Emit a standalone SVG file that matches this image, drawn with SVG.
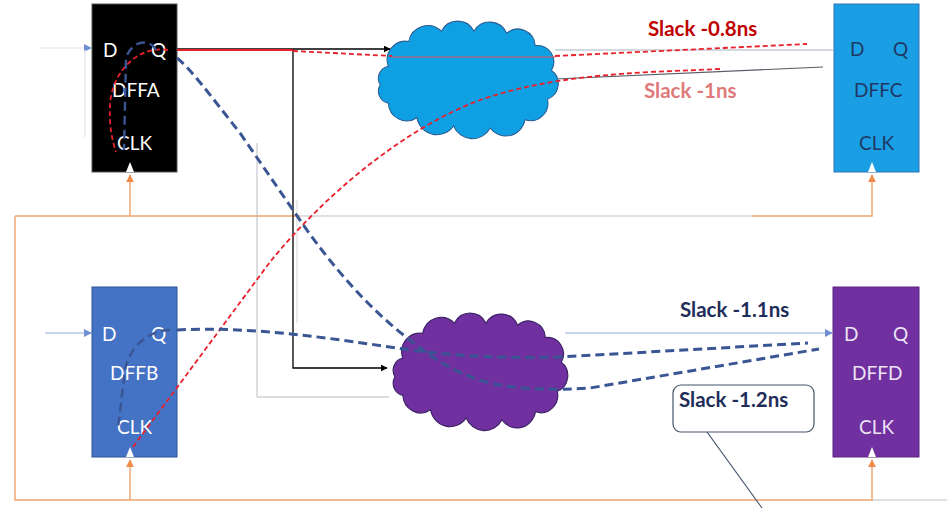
<svg xmlns="http://www.w3.org/2000/svg" width="947" height="520" viewBox="0 0 947 520">
<style>
  text { font-family: Lato, "Open Sans", "Liberation Sans", sans-serif; }
  .ff { font-size: 19px; }
  .wt { fill: #ffffff; }
  .nv { fill: #1f3864; }
  .lv { fill: #ece4f4; }
  .slack { font-size: 20.5px; font-weight: bold; }
  .or { stroke: #f0a36e; stroke-width: 1.4; fill: none; }
  .gr { stroke: #d6d6d6; stroke-width: 1.4; fill: none; }
  .blk { stroke: #000000; stroke-width: 1.3; fill: none; }
  .rd { stroke: #e8202a; stroke-width: 1.8; fill: none; stroke-dasharray: 5 3; }
  .bd { stroke: #3a5594; stroke-width: 3; fill: none; stroke-dasharray: 9 5; }
</style>
<defs>
  <marker id="ab" viewBox="0 0 10 10" refX="9" refY="5" markerWidth="7" markerHeight="7" orient="auto" markerUnits="userSpaceOnUse">
    <path d="M0,0 L10,5 L0,10 z" fill="#000"/>
  </marker>
  <marker id="ao" viewBox="0 0 10 10" refX="9" refY="5" markerWidth="8" markerHeight="8" orient="auto" markerUnits="userSpaceOnUse">
    <path d="M0,0 L10,5 L0,10 z" fill="#f08a4b"/>
  </marker>
  <marker id="abl" viewBox="0 0 10 10" refX="9" refY="5" markerWidth="8" markerHeight="8" orient="auto" markerUnits="userSpaceOnUse">
    <path d="M0,0 L10,5 L0,10 z" fill="#6f8fd0"/>
  </marker>
  <path id="cloud" d="M16,40 A18 18 0 0 1 36,16 A19 19 0 0 1 68,6 A18 18 0 0 1 100,6 A18 18 0 0 1 132,8 A17 17 0 0 1 160,20 A16 16 0 0 1 176,44 A16 16 0 0 1 172,72 A17 17 0 0 1 150,92 A19 19 0 0 1 116,100 A20 20 0 0 1 80,98 A20 20 0 0 1 44,90 A18 18 0 0 1 16,76 A12 12 0 0 1 8,58 A12 12 0 0 1 16,40 Z"/>
</defs>
<rect width="947" height="520" fill="#ffffff"/>

<g id="connectors">
  <!-- clock network -->
  <path class="or" d="M15,216 L300,216"/>
  <path class="gr" d="M300,216 L752,216"/>
  <path class="or" d="M752,216 L872,216 L872,175" marker-end="url(#ao)"/>
  <path class="or" d="M130,216 L130,175" marker-end="url(#ao)"/>
  <path class="or" d="M15,216 L15,500 L873,500"/>
  <path class="gr" d="M873,500 L947,500"/>
  <path class="or" d="M130,500 L130,460" marker-end="url(#ao)"/>
  <path class="or" d="M872,500 L872,460" marker-end="url(#ao)"/>

  <!-- faint inputs -->
  <path d="M40,48 L91,48" stroke="#e2e6ef" stroke-width="1.2" fill="none" marker-end="url(#abl)"/>
  <path d="M85,50 L85,137" stroke="#e6e9f0" stroke-width="1.5" fill="none"/>
  <path d="M45,333 L91,333" stroke="#8ea9db" stroke-width="1.2" fill="none" marker-end="url(#abl)"/>
  <path d="M257,143 L257,397 L389,397" stroke="#b8bcc4" stroke-width="1" fill="none"/>
  <path d="M297,200 L297,323" stroke="#e4e4e4" stroke-width="1.5" fill="none"/>

  <!-- cloud outputs -->
  <path d="M555,50 L833,50" stroke="#a9b2c4" stroke-width="1.2" fill="none"/>
  <path d="M565,333 L832,333" stroke="#8ea9db" stroke-width="1.2" fill="none" marker-end="url(#abl)"/>
  <path d="M555,79 L823,67" stroke="#555b66" stroke-width="1.1" fill="none"/>

  <!-- DFFA Q to clouds -->
  <path class="blk" d="M177,49 L390,49" marker-end="url(#ab)"/>
  <path class="blk" d="M293,49 L293,368 L387,368" marker-end="url(#ab)"/>

  <!-- Slack -1.2ns callout leader -->
  <path d="M707,432 L762,508" stroke="#44546a" stroke-width="1.2" fill="none"/>
</g>

<g id="cloud-top">
  <use href="#cloud" transform="translate(372,25) scale(1.02,1.03)" fill="#0fa0e4" stroke="#2a5a90" stroke-width="1"/>
</g>
<g id="cloud-bottom">
  <use href="#cloud" transform="translate(387,317) scale(0.99,1.03)" fill="#7030a0" stroke="#3f2468" stroke-width="1.2"/>
</g>

<g id="DFFA">
  <rect x="92" y="4" width="85" height="168" fill="#000000" stroke="#555555" stroke-width="1"/>
  <text class="ff wt" x="103" y="57">D</text>
  <text class="ff wt" x="151" y="57">Q</text>
  <text class="ff wt" x="112" y="97">DFFA</text>
  <text class="ff wt" x="117" y="150">CLK</text>
  <path d="M126,172 L134,172 L130,162 Z" fill="#ffffff"/>
</g>

<g id="DFFC">
  <rect x="834" y="4" width="85" height="168" fill="#1a9fe4" stroke="#2e75b6" stroke-width="1"/>
  <text class="ff nv" x="850" y="56">D</text>
  <text class="ff nv" x="893" y="56">Q</text>
  <text class="ff nv" x="854" y="97">DFFC</text>
  <text class="ff nv" x="859" y="150">CLK</text>
  <path d="M868,172 L876,172 L872,162 Z" fill="#ffffff"/>
</g>

<g id="DFFB">
  <rect x="92" y="287" width="85" height="170" fill="#4472c4" stroke="#2f5597" stroke-width="1"/>
  <text class="ff wt" x="102" y="341">D</text>
  <text class="ff wt" x="151" y="341">Q</text>
  <text class="ff wt" x="110" y="380">DFFB</text>
  <text class="ff wt" x="117" y="434">CLK</text>
  <path d="M126,457 L134,457 L130,447 Z" fill="#ffffff"/>
</g>

<g id="DFFD">
  <rect x="833" y="287" width="86" height="170" fill="#7030a0" stroke="#5b2684" stroke-width="1"/>
  <text class="ff lv" x="844" y="341">D</text>
  <text class="ff lv" x="893" y="341">Q</text>
  <text class="ff lv" x="852" y="380">DFFD</text>
  <text class="ff lv" x="859" y="434">CLK</text>
  <path d="M868,457 L876,457 L872,447 Z" fill="#ffffff"/>
</g>

<g id="timing-paths">
  <!-- Slack -0.8ns : DFFA -> DFFC -->
  <path d="M168,50 C140,45 112,70 110,105 C109,125 112,140 116,152" class="rd"/>
  <path d="M177,50 L293,50" stroke="#e8202a" stroke-width="1.8" fill="none"/>
  <path class="rd" d="M293,51 L392,56"/>
  <path d="M392,57 L555,57" stroke="#e05060" stroke-width="1" fill="none"/>
  <path class="rd" d="M555,56 L807,44"/>
  <!-- Slack -1ns : DFFB -> DFFC -->
  <path class="rd" d="M133,447 L270,262 C320,200 400,130 480,100 C530,83 580,76 650,72 L720,69"/>
  <!-- DFFA internal launch (blue) -->
  <path class="bd" style="stroke-width:2.4" d="M156,50 C150,38 132,40 126,58 L124,150"/>
  <!-- Slack -1.2ns : DFFA -> DFFD -->
  <path class="bd" d="M177,58 C190,68 210,95 240,133 L293,210 C330,265 370,310 410,340 C440,365 470,380 500,385 C530,390 560,390 590,388 L819,349"/>
  <!-- DFFB internal launch -->
  <path class="bd" style="stroke-width:2.4" d="M170,330 C150,330 130,345 125,370 L118,428"/>
  <!-- Slack -1.1ns : DFFB -> DFFD -->
  <path class="bd" d="M177,330 C250,326 330,338 410,350 C470,358 520,358 560,357 L808,343"/>
</g>

<g id="labels">
  <text class="slack" x="648" y="36" fill="#c00000">Slack -0.8ns</text>
  <text class="slack" x="644" y="98" fill="#e07a7a">Slack -1ns</text>
  <text class="slack" x="680" y="317" fill="#1f2d5a">Slack -1.1ns</text>
  <g id="callout">
    <rect x="673" y="385" width="141" height="47" rx="8" fill="#ffffff" stroke="#44546a" stroke-width="1.2"/>
    <text class="slack" x="679" y="407" fill="#1f2d5a">Slack -1.2ns</text>
  </g>
</g>
</svg>
